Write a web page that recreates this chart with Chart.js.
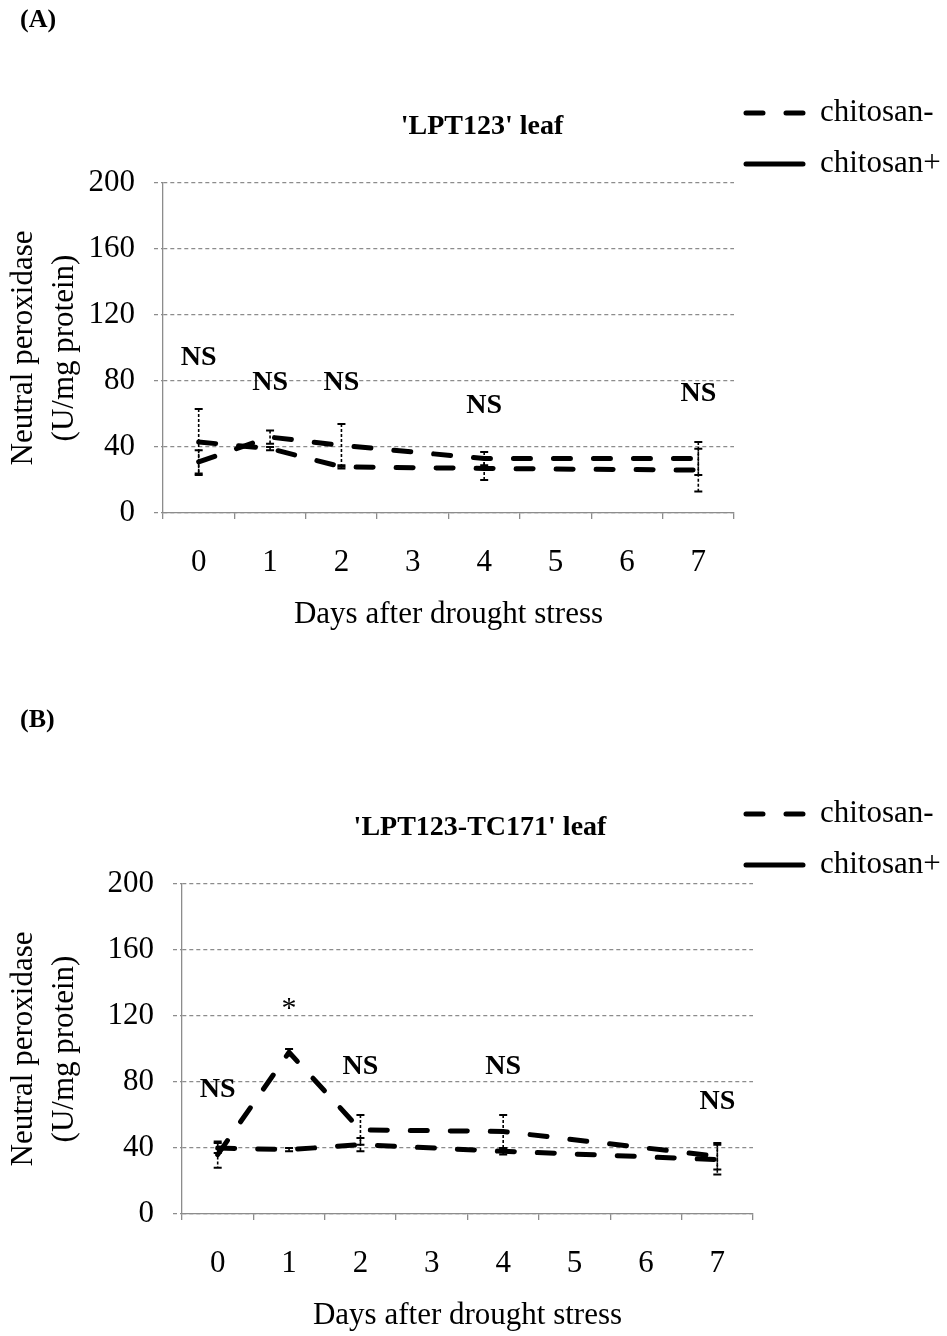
<!DOCTYPE html>
<html>
<head>
<meta charset="utf-8">
<script src="https://cdn.jsdelivr.net/npm/chart.js@4.4.1/dist/chart.umd.min.js"></script>
<style>
  html, body { margin: 0; padding: 0; background: #fff; }
  body { width: 947px; height: 1336px; position: relative; overflow: hidden; }
  .panel { position: absolute; left: 0; width: 947px; }
  #panelA { top: 0; height: 635px; }
  #panelB { top: 668px; height: 668px; }
</style>
</head>
<body>
<div class="panel" id="panelA"><canvas id="chartA"></canvas></div>
<div class="panel" id="panelB"><canvas id="chartB"></canvas></div>
<script>
// days after drought stress (only 0,1,2,4,7 were sampled)
const days = ['0', '1', '2', '3', '4', '5', '6', '7'];
const yTicks = [0, 40, 80, 120, 160, 200];

// (A) 'LPT123' leaf
const minusA = [43, 39, 28, null, 27, null, null, 26];
const minusErrA = [20, 1, 1, null, 7, null, null, 13];
const plusA = [31, 46, 41, null, 33, null, null, 33];
const plusErrA = [7, 4, 13, null, 4, null, null, 10];
const sigA = ['NS', 'NS', 'NS', null, 'NS', null, null, 'NS'];
const sigYA = [94, 79, 79, null, 65, null, null, 72];

// (B) 'LPT123-TC171' leaf
const minusB = [40, 39, 42, null, 38, null, null, 33];
const minusErrB = [3, 1, 4, null, 2, null, null, 9];
const plusB = [36, 98, 51, null, 50, null, null, 35];
const plusErrB = [8, 2, 9, null, 10, null, null, 8];
const sigB = ['NS', '*', 'NS', null, 'NS', null, null, 'NS'];
const sigYB = [75, 124, 89, null, 89, null, null, 68];

const SERIF = '"Liberation Serif", "Times New Roman", serif';
const GRID = '#8c8c8c';
const DASH = [17, 23];

const errorBars = {
  id: 'errorBars',
  afterDatasetsDraw(chart) {
    const { ctx, scales: { x, y } } = chart;
    ctx.save();
    ctx.strokeStyle = '#000';
    chart.data.datasets.forEach(ds => {
      (ds.errors || []).forEach((e, i) => {
        const v = ds.data[i];
        if (e == null || v == null) return;
        const px = x.getPixelForValue(i);
        const t = y.getPixelForValue(v + e);
        const b = y.getPixelForValue(Math.max(0, v - e));
        ctx.lineWidth = 1.6;
        ctx.setLineDash([3, 2]);
        ctx.beginPath();
        ctx.moveTo(px, t); ctx.lineTo(px, b);
        ctx.stroke();
        ctx.setLineDash([]);
        ctx.lineWidth = 2;
        ctx.beginPath();
        ctx.moveTo(px - 4, t); ctx.lineTo(px + 4, t);
        ctx.moveTo(px - 4, b); ctx.lineTo(px + 4, b);
        ctx.stroke();
      });
    });
    ctx.restore();
  }
};

const figureText = {
  id: 'figureText',
  afterDraw(chart, args, opts) {
    const { ctx, chartArea, scales: { x, y } } = chart;
    ctx.save();
    ctx.fillStyle = '#000';
    ctx.textBaseline = 'middle';

    ctx.font = 'bold 26px ' + SERIF;
    ctx.textAlign = 'left';
    ctx.fillText(opts.panel, 20, opts.panelY);

    ctx.font = 'bold 28px ' + SERIF;
    ctx.textAlign = 'center';
    ctx.fillText(opts.title, opts.titleX, chartArea.top - 56);

    opts.marks.forEach((m, i) => {
      if (!m) return;
      ctx.font = (m === '*' ? '30px ' : 'bold 28px ') + SERIF;
      ctx.fillText(m, x.getPixelForValue(i), y.getPixelForValue(opts.markY[i]));
    });

    // legend, right of the plot
    chart.data.datasets.forEach((ds, i) => {
      const ly = chartArea.top - 70 + i * 51;
      ctx.strokeStyle = ds.borderColor;
      ctx.lineWidth = 5;
      ctx.lineCap = 'round';
      ctx.setLineDash(ds.legendDash || []);
      ctx.beginPath();
      ctx.moveTo(746, ly); ctx.lineTo(803, ly);
      ctx.stroke();
      ctx.setLineDash([]);
      ctx.font = '31px ' + SERIF;
      ctx.textAlign = 'left';
      ctx.fillText(ds.label, 820, ly);
    });
    ctx.restore();
  }
};

function lineSet(label, data, errors, legendDash) {
  return {
    label, data, errors, legendDash,
    borderColor: '#000',
    borderWidth: 5,
    borderDash: DASH,
    borderCapStyle: 'round',
    pointRadius: 0,
    pointHoverRadius: 0,
    spanGaps: true,
    tension: 0,
    fill: false
  };
}

function makeChart(id, cfg) {
  return new Chart(document.getElementById(id), {
    type: 'line',
    data: {
      labels: days,
      datasets: [
        lineSet('chitosan-', cfg.minus, cfg.minusErr, DASH),
        lineSet('chitosan+', cfg.plus, cfg.plusErr, [])
      ]
    },
    plugins: [errorBars, figureText],
    options: {
      responsive: true,
      maintainAspectRatio: false,
      animation: false,
      layout: { padding: { top: cfg.top, right: cfg.right, left: 0, bottom: 0 } },
      plugins: {
        legend: { display: false },
        tooltip: { enabled: false },
        figureText: {
          panel: cfg.panel, panelY: cfg.panelY,
          title: cfg.title, titleX: cfg.titleX,
          marks: cfg.sig, markY: cfg.sigY
        }
      },
      scales: {
        x: {
          type: 'category',
          offset: true,
          grid: { display: true, drawOnChartArea: false, drawTicks: true, tickLength: 6, offset: true, color: GRID, tickColor: GRID, lineWidth: 1.3 },
          border: { display: true, color: GRID, width: 1.3, dash: [4, 3] },
          ticks: { color: '#000', padding: 25, font: { family: SERIF, size: 31 }, maxRotation: 0, autoSkip: false },
          title: { display: true, text: 'Days after drought stress', color: '#000', font: { family: SERIF, size: 31 }, padding: { top: 0, bottom: 2 } },
          afterFit(scale) { scale.height = 122; }
        },
        y: {
          min: 0, max: 200,
          afterBuildTicks(scale) { scale.ticks = yTicks.map(v => ({ value: v })); },
          grid: { color: GRID, lineWidth: 1.3, tickLength: 9, tickColor: GRID, tickBorderDash: [4, 3] },
          border: { display: true, color: GRID, width: 1.3, dash: [4, 3] },
          ticks: { color: '#000', padding: 19, font: { family: SERIF, size: 31 } },
          title: {
            display: true,
            text: ['Neutral peroxidase', '(U/mg protein)'],
            color: '#000',
            font: { family: SERIF, size: 31, lineHeight: 1.3 },
            padding: { top: 4, bottom: 0 }
          },
          afterFit(scale) { scale.width = cfg.left; }
        }
      }
    }
  });
}

makeChart('chartA', {
  minus: minusA, minusErr: minusErrA, plus: plusA, plusErr: plusErrA,
  sig: sigA, sigY: sigYA,
  panel: '(A)', panelY: 20, title: "'LPT123' leaf", titleX: 482,
  top: 183, right: 213, left: 163
});

makeChart('chartB', {
  minus: minusB, minusErr: minusErrB, plus: plusB, plusErr: plusErrB,
  sig: sigB, sigY: sigYB,
  panel: '(B)', panelY: 52, title: "'LPT123-TC171' leaf", titleX: 480,
  top: 216, right: 194, left: 182
});
</script>
</body>
</html>
